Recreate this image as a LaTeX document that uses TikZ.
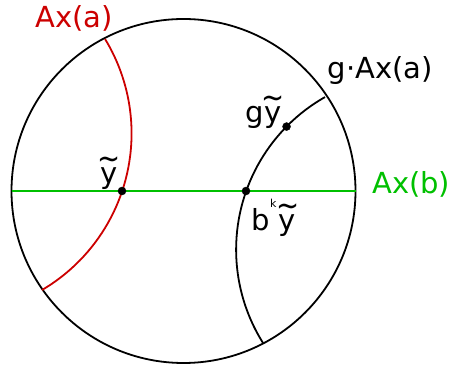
\documentclass[tikz,border=0pt]{standalone}
\usepackage{graphicx}
\usepackage{fontspec}
\setmainfont{DejaVu Sans}
\definecolor{axred}{RGB}{204,0,0}
\definecolor{axgreen}{RGB}{0,192,0}
\newcommand{\tily}{\ooalign{y\cr\hidewidth\raisebox{0.5em}{\scalebox{0.95}[1.1]{\char"7E}}\hidewidth\cr}}
\begin{document}
\begin{tikzpicture}[x=1pt,y=1pt,
  lbl/.style={inner sep=0pt, anchor=base west, font=\fontsize{29}{32}\selectfont},
  dot/.style={circle, fill=black, draw=black, inner sep=0pt, minimum size=8pt},
  bound/.style={line width=1.8pt},
  geo/.style={line width=1.8pt},
  axis/.style={draw=axgreen, line width=2pt}]
\useasboundingbox (0,0) rectangle (452,366);
% boundary circle
\coordinate (O) at (183.5,175);
\draw[bound] (O) circle[radius=172];
% green axis
\coordinate (L) at (11.5,175);
\coordinate (R) at (355.5,175);
\draw[axis] (L) -- (R);
% red geodesic Ax(a)
\coordinate (rc) at (-50.04,232.52);
\path (rc) ++(-59.54:181.6) coordinate (ra);
\draw[draw=axred, geo] (ra) arc[start angle=-59.54, end angle=31.36, radius=181.6];
% black geodesic g.Ax(a)
\coordinate (bc) at (411.52,116.37);
\path (bc) ++(119.55:175.4) coordinate (ba);
\draw[geo] (ba) arc[start angle=119.55, end angle=212.16, radius=175.4];
\path (bc) ++(135.44:175.4) coordinate (gyp);
% dots
\node[dot] (y) at (122,175) {};
\node[dot] (by) at (246,175) {};
\node[dot] (gy) at (gyp) {};
% labels
\node[lbl, text=axred] (laxa) at (35,338) {Ax(a)};
\node[lbl] (lgaxa) at (327.5,287) {g·Ax(a)};
\node[lbl, text=axgreen] (laxb) at (372,172) {Ax(b)};
\node[lbl] (lgy) at (245.5,243) {g\tily};
\node[lbl] (ly) at (100,182) {\tily};
\node[lbl] (lby) at (251.5,135) {b\raisebox{23pt}{\fontsize{11}{11}\selectfont k}\hspace{2.5pt}\tily};
\end{tikzpicture}
\end{document}
